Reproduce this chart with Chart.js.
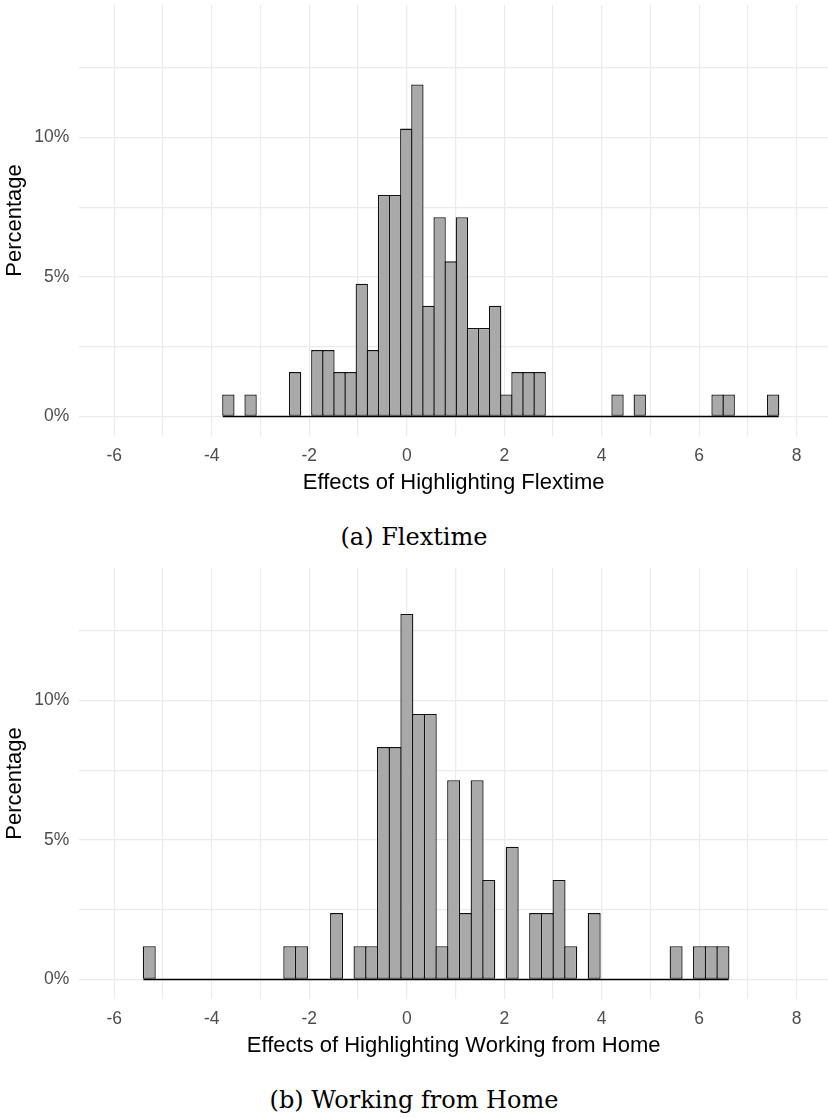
<!DOCTYPE html>
<html>
<head>
<meta charset="utf-8">
<script src="https://cdn.jsdelivr.net/npm/chart.js@4.4.1/dist/chart.umd.min.js"></script>
<style>
  body { margin: 0; background: #fff; }
  #page { position: relative; width: 828px; height: 1118px; overflow: hidden; background: #fff; }
  canvas { position: absolute; left: 0; }
  .caption {
    position: absolute; left: 0; width: 828px; text-align: center;
    font-family: 'DejaVu Serif', serif; font-size: 24px; line-height: 30px; color: #000;
  }
</style>
</head>
<body>
<div id="page">
  <canvas id="flexChart" width="828" height="500" style="top:0px"></canvas>
  <div class="caption" style="top:522px">(a) Flextime</div>
  <canvas id="wfhChart" width="828" height="500" style="top:563px"></canvas>
  <div class="caption" style="top:1085px">(b) Working from Home</div>
</div>
<script>

// bin centres (50 bins each) and share of respondents in %
const flexBins = [-3.660, -3.432, -3.204, -2.976, -2.748, -2.519, -2.291, -2.063, -1.835, -1.607,
    -1.379, -1.151, -0.923, -0.695, -0.467, -0.239, -0.010, 0.218, 0.446, 0.674,
    0.902, 1.130, 1.358, 1.586, 1.814, 2.043, 2.271, 2.499, 2.727, 2.955,
    3.183, 3.411, 3.639, 3.867, 4.095, 4.324, 4.552, 4.780, 5.008, 5.236,
    5.464, 5.692, 5.920, 6.148, 6.376, 6.605, 6.833, 7.061, 7.289, 7.517];
const flexPercent = [0.79, 0, 0.79, 0, 0, 0, 1.59, 0, 2.38, 2.38,
    1.59, 1.59, 4.76, 2.38, 7.94, 7.94, 10.32, 11.90, 3.97, 7.14,
    5.56, 7.14, 3.17, 3.17, 3.97, 0.79, 1.59, 1.59, 1.59, 0,
    0, 0, 0, 0, 0, 0.79, 0, 0.79, 0, 0,
    0, 0, 0, 0, 0.79, 0.79, 0, 0, 0, 0.79];

const wfhBins = [-5.283, -5.043, -4.802, -4.562, -4.322, -4.082, -3.842, -3.601, -3.361, -3.121,
    -2.881, -2.641, -2.400, -2.160, -1.920, -1.680, -1.440, -1.199, -0.959, -0.719,
    -0.479, -0.239, 0.002, 0.242, 0.482, 0.722, 0.962, 1.203, 1.443, 1.683,
    1.923, 2.163, 2.403, 2.644, 2.884, 3.124, 3.364, 3.604, 3.845, 4.085,
    4.325, 4.565, 4.805, 5.046, 5.286, 5.526, 5.766, 6.006, 6.247, 6.487];
const wfhPercent = [1.19, 0, 0, 0, 0, 0, 0, 0, 0, 0,
    0, 0, 1.19, 1.19, 0, 0, 2.38, 0, 1.19, 1.19,
    8.33, 8.33, 13.10, 9.52, 9.52, 1.19, 7.14, 2.38, 7.14, 3.57,
    0, 4.76, 0, 2.38, 2.38, 3.57, 1.19, 0, 2.38, 0,
    0, 0, 0, 0, 0, 1.19, 0, 1.19, 1.19, 1.19];

const xGridValues = [-6, -5, -4, -3, -2, -1, 0, 1, 2, 3, 4, 5, 6, 7, 8];
const xTickLabels = [-6, -4, -2, 0, 2, 4, 6, 8];
const yGridValues = [0, 2.5, 5, 7.5, 10, 12.5];
const yTickLabels = [0, 5, 10];

Chart.defaults.font.family = "'Liberation Sans', Arial, sans-serif";

// keep the panel where we put it, no auto padding for tick labels
function noAutoPadding(scale) {
    scale.paddingTop = 0;
    scale.paddingBottom = 0;
    scale.paddingLeft = 0;
    scale.paddingRight = 0;
}

const panels = [
    {id: 'flexChart', bins: flexBins, values: flexPercent, title: 'Effects of Highlighting Flextime'},
    {id: 'wfhChart', bins: wfhBins, values: wfhPercent, title: 'Effects of Highlighting Working from Home'}
];

panels.forEach(panel => {
    const w = panel.bins[1] - panel.bins[0];
    const first = panel.bins[0] - w / 2;
    const last = panel.bins[panel.bins.length - 1] + w / 2;

    new Chart(document.getElementById(panel.id), {
        type: 'bar',
        data: {
            datasets: [
                {
                    // zero line under the empty bins
                    type: 'line',
                    data: [{x: first, y: 0}, {x: last, y: 0}],
                    borderColor: '#000',
                    borderWidth: 1.5,
                    pointRadius: 0,
                    order: 0
                },
                {
                    type: 'bar',
                    data: panel.bins.map((x, i) => ({x: x, y: panel.values[i]})),
                    backgroundColor: '#a9a9a9',
                    borderColor: '#111',
                    borderWidth: 1.3,
                    borderSkipped: false,
                    barPercentage: 1.11,
                    categoryPercentage: 1,
                    order: 1
                }
            ]
        },
        options: {
            responsive: false,
            animation: false,
            layout: {padding: {top: 5, right: 0, bottom: 0, left: 0}},
            plugins: {
                legend: {display: false},
                tooltip: {enabled: false}
            },
            scales: {
                x: {
                    type: 'linear',
                    min: -6.718,
                    max: 8.642,
                    offset: false,
                    grid: {color: '#ebebeb', lineWidth: 1.2, drawTicks: false, offset: false},
                    border: {display: false},
                    afterBuildTicks: scale => { scale.ticks = xGridValues.map(v => ({value: v})); },
                    ticks: {
                        autoSkip: false,
                        maxRotation: 0,
                        padding: 10,
                        color: '#4d4d4d',
                        font: {size: 17.5},
                        callback: v => xTickLabels.includes(v) ? String(v) : ''
                    },
                    title: {
                        display: true,
                        text: panel.title,
                        color: '#000',
                        font: {size: 22},
                        padding: {top: 0, bottom: 4}
                    },
                    afterFit: scale => { scale.height = 64; noAutoPadding(scale); }
                },
                y: {
                    min: -0.7,
                    max: 14.75,
                    grid: {color: '#ebebeb', lineWidth: 1.2, drawTicks: false},
                    border: {display: false},
                    afterBuildTicks: scale => { scale.ticks = yGridValues.map(v => ({value: v})); },
                    ticks: {
                        padding: 10,
                        color: '#4d4d4d',
                        font: {size: 17.5},
                        callback: v => yTickLabels.includes(v) ? v + '%' : ''
                    },
                    title: {
                        display: true,
                        text: 'Percentage',
                        color: '#000',
                        font: {size: 22},
                        padding: {top: 1.5, bottom: 0}
                    },
                    afterFit: scale => { scale.width = 79.3; noAutoPadding(scale); }
                }
            }
        }
    });
});

</script>
</body>
</html>
